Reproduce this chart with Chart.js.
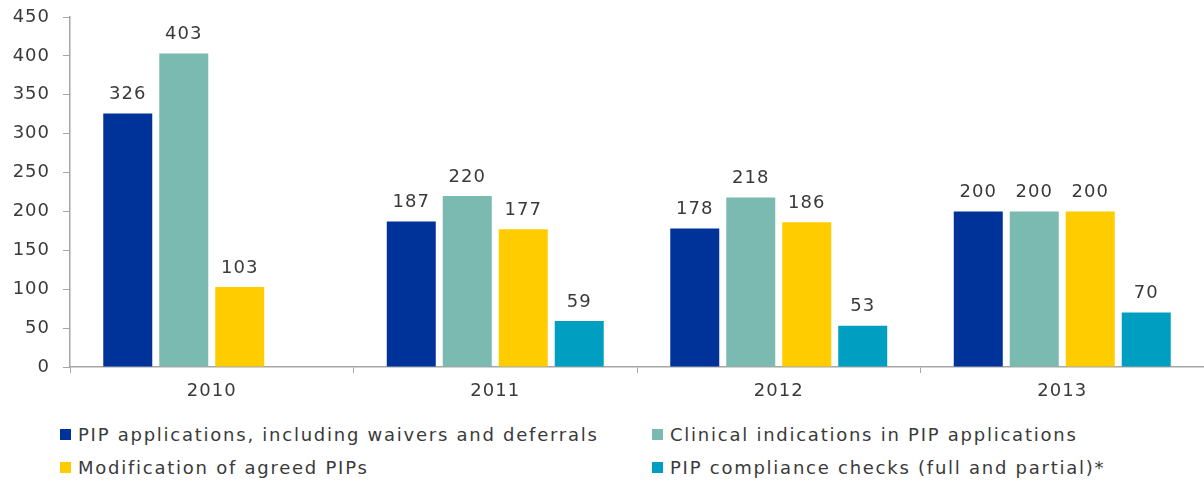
<html>
<head>
<meta charset="utf-8">
<script src="https://cdn.jsdelivr.net/npm/chart.js@4/dist/chart.umd.min.js"></script>
<style>
body { margin: 0; background: #fff; font-family: "DejaVu Sans", Verdana, sans-serif; }
#wrap { position: relative; width: 1204px; height: 481px; }
#legend { position: absolute; left: 60px; top: 423px; width: 1140px; display: grid;
  grid-template-columns: 592px 540px; row-gap: 11px; color: #3a3a3a; font-size: 18px; letter-spacing: 1.75px; }
#legend div { display: flex; align-items: center; height: 22px; white-space: nowrap; }
#legend span { display: inline-block; width: 11px; height: 11px; margin-right: 7px; }
</style>
</head>
<body>
<div id="wrap">
  <canvas id="c" width="1204" height="410" style="width:1204px;height:410px"></canvas>
  <div id="legend"></div>
</div>
<script>
// years and series
const years = ['2010', '2011', '2012', '2013'];
const seriesNames = [
  'PIP applications, including waivers and deferrals',
  'Clinical indications in PIP applications',
  'Modification of agreed PIPs',
  'PIP compliance checks (full and partial)*'
];
const pipApplications = [326, 187, 178, 200];
const clinicalIndications = [403, 220, 218, 200];
const modifications = [103, 177, 186, 200];
const complianceChecks = [null, 59, 53, 70];
const colors = ['#003399', '#7bbab0', '#ffcc00', '#009ec1'];
const yTicks = [0, 50, 100, 150, 200, 250, 300, 350, 400, 450];

const allValues = [pipApplications, clinicalIndications, modifications, complianceChecks];

// wider text like the original (Verdana-ish)
const spacing = {
  id: 'spacing',
  beforeDraw(chart) { chart.ctx.letterSpacing = '1px'; }
};

// value labels above bars
const valueLabels = {
  id: 'valueLabels',
  afterDatasetsDraw(chart) {
    const ctx = chart.ctx;
    ctx.save();
    ctx.font = '18px "DejaVu Sans"';
    ctx.fillStyle = '#3a3a3a';
    ctx.textAlign = 'center';
    ctx.textBaseline = 'bottom';
    chart.data.datasets.forEach((ds, i) => {
      chart.getDatasetMeta(i).data.forEach((bar, j) => {
        if (ds.data[j] == null) return;
        ctx.fillText(ds.data[j], bar.x, bar.y - 10);
      });
    });
    ctx.restore();
  }
};

const ctx = document.getElementById('c').getContext('2d');
new Chart(ctx, {
  type: 'bar',
  data: {
    labels: years,
    datasets: allValues.map((vals, i) => ({
      label: seriesNames[i],
      data: vals,
      backgroundColor: colors[i],
      categoryPercentage: 0.79,
      barPercentage: 0.875
    }))
  },
  options: {
    responsive: false,
    animation: false,
    layout: { padding: { top: 17, right: 0, left: 0, bottom: 0 } },
    plugins: { legend: { display: false }, tooltip: { enabled: false } },
    scales: {
      x: {
        offset: true,
        grid: { offset: true, drawOnChartArea: false, color: '#a6a6a6', tickLength: 6 },
        border: { color: '#a6a6a6', width: 1.5 },
        ticks: { color: '#3a3a3a', font: { family: 'DejaVu Sans', size: 18, lineHeight: 1 }, padding: 9 },
        afterFit: s => { s.height = 43; }
      },
      y: {
        min: 0,
        max: 450,
        afterBuildTicks: s => { s.ticks = yTicks.map(v => ({ value: v })); },
        grid: { drawOnChartArea: false, color: '#a6a6a6', tickLength: 7 },
        border: { color: '#a6a6a6', width: 1.5 },
        ticks: { color: '#3a3a3a', font: { family: 'DejaVu Sans', size: 18, lineHeight: 1 }, padding: 13 },
        afterFit: s => { s.width = 70; s.paddingTop = 0; s.paddingBottom = 0; }
      }
    }
  },
  plugins: [spacing, valueLabels]
});

// legend in two columns
document.getElementById('legend').innerHTML = seriesNames.map((name, i) =>
  `<div><span style="background:${colors[i]}"></span>${name}</div>`).join('');
</script>
</body>
</html>
